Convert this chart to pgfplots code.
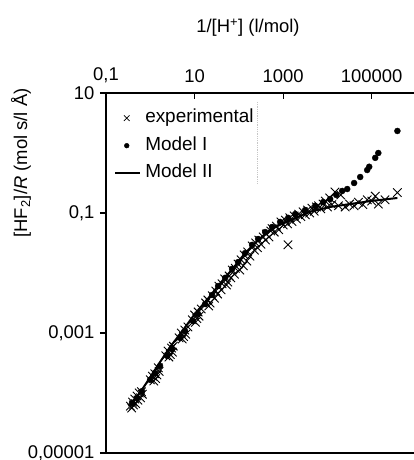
\documentclass[border=0pt]{standalone}
\usepackage{fontspec}
\setmainfont{Liberation Sans}
\usepackage{pgfplots}
\pgfplotsset{compat=1.18}
\newcommand{\lbl}{\fontsize{18.5}{20}\selectfont}
\newcommand{\leg}{\fontsize{19}{20}\selectfont}
\pgfplotsset{
  legcross/.style={legend image code/.code={\draw[##1, mark size=4bp, line width=0.7bp] plot coordinates {(11.5bp,0bp)};}},
  legdot/.style={legend image code/.code={\draw[##1, mark size=2.4bp] plot coordinates {(11.5bp,0bp)};}},
  legline/.style={legend image code/.code={\draw[##1] (0bp,0bp) -- (25bp,0bp);}},
}
\begin{document}
\begin{tikzpicture}[x=1bp,y=1bp]
\begin{axis}[
  at={(0,0)}, anchor=south west,
  scale only axis, width=310bp, height=360bp,
  xmode=log, ymode=log,
  xmin=0.1, xmax=1e6, ymin=1e-5, ymax=10,
  axis x line*=box, axis y line*=left,
  axis line style={line width=1.3bp},
  xtick pos=right, xticklabel pos=right,
  xtick={0.1,10,1000,100000}, xticklabels={{0,1},10,1000,100000},
  ytick={1e-5,1e-3,0.1,10}, yticklabels={{0,00001},{0,001},{0,1},10},
  xminorticks=false, yminorticks=false,
  tick align=inside, major tick length=6bp,
  tick style={line width=1.2bp, black},
  ytick style={xshift=-6bp},
  tick label style={font=\lbl},
  yticklabel style={xshift=-8bp},
  xticklabel style={yshift=7bp},
  legend style={at={(axis description cs:0.026,0.957)}, anchor=north west,
    draw=none, fill=none, font=\leg, row sep=8.5bp, column sep=3bp, inner sep=0bp,
    nodes={inner sep=1bp, text height=13bp, text depth=4bp}},
  legend cell align=left,
  clip=false,
]
\addplot[only marks, mark=x, mark size=6bp, line width=0.9bp, black, legcross]
coordinates {
(0.355,6.03e-5) (0.380,5.62e-5) (0.398,7.08e-5) (0.417,6.31e-5) (0.447,7.94e-5)
(0.468,6.61e-5) (0.501,8.91e-5) (0.525,7.59e-5) (0.562,1.0e-4) (0.603,8.32e-5)
(0.631,1.05e-4) (0.661,9.55e-5)
(1.0,1.66e-4) (1.122,1.91e-4) (1.202,1.585e-4) (1.259,2.09e-4) (1.318,1.74e-4)
(1.413,2.0e-4) (1.514,2.63e-4) (1.585,2.29e-4)
(2.239,4.17e-4) (2.512,5.01e-4) (2.630,3.98e-4) (2.818,4.37e-4) (3.020,5.62e-4)
(3.162,4.79e-4) (3.311,6.03e-4)
(4.467,8.32e-4) (5.012,1.0e-3) (5.248,7.94e-4) (5.623,8.71e-4) (6.026,1.12e-3)
(6.310,9.55e-4) (7.079,1.26e-3)
(8.913,1.66e-3) (10,2.0e-3) (10.47,1.51e-3) (11.22,1.74e-3) (12.02,2.24e-3)
(12.59,1.91e-3) (14.13,2.51e-3)
(17.78,3.16e-3) (19.95,3.55e-3) (20.89,2.82e-3) (22.39,3.16e-3) (25.12,4.17e-3)
(28.18,3.80e-3) (30.2,5.01e-3) (33.11,4.47e-3) (35.48,6.03e-3) (39.81,5.25e-3)
(41.69,6.61e-3) (47.86,7.94e-3) (52.48,6.31e-3) (56.23,7.08e-3) (60.26,8.91e-3)
(66.07,8.32e-3) (70.79,1.12e-2) (79.43,9.55e-3) (83.18,1.20e-2) (95.5,1.41e-2)
(104.7,1.12e-2) (112.2,1.66e-2) (125.9,1.32e-2) (131.8,2.0e-2) (151.4,1.585e-2)
(158.5,2.24e-2) (177.8,1.91e-2) (199.5,2.82e-2) (223.9,2.40e-2) (239.9,3.16e-2)
(263.0,2.63e-2) (281.8,3.55e-2) (316.2,3.02e-2) (354.8,3.98e-2) (398.1,3.55e-2)
(416.9,4.47e-2) (478.6,3.98e-2) (524.8,5.01e-2) (562.3,5.50e-2) (631,4.79e-2)
(707.9,6.03e-2) (794.3,5.25e-2) (891.3,7.08e-2) (1000,6.31e-2) (1122,7.59e-2)
(1259,6.61e-2) (1413,8.32e-2) (1585,7.24e-2) (1778,8.91e-2) (1995,7.94e-2)
(2239,9.55e-2) (2512,8.71e-2) (2818,0.105) (3162,9.33e-2) (3548,0.112)
(3981,0.1) (4467,0.120) (5012,0.107) (5623,0.126)
(1288,2.95e-2)
(6310,0.132) (7079,0.117) (7943,0.141) (8913,0.158) (10000,0.126)
(11220,0.178) (12590,0.138) (14790,0.224) (17780,0.132) (19950,0.200)
(25120,0.126) (31620,0.141) (39810,0.132) (50120,0.151) (63100,0.138)
(79430,0.166) (100000,0.158) (120200,0.191) (141300,0.141) (199500,0.166)
(380200,0.219)
};
\addlegendentry{experimental}
\addplot[only marks, mark=*, mark size=3bp, black, legdot]
coordinates {
(0.389,6.8e-5) (0.50,8.3e-5) (0.646,1.07e-4) (0.99,1.66e-4) (1.28,2.14e-4)
(1.66,2.82e-4) (2.40,4.17e-4) (3.09,5.37e-4) (4.68,8.3e-4) (6.1,1.07e-3)
(9.25,1.58e-3) (12.0,2.08e-3) (17.3,3.04e-3) (24.8,4.3e-3) (34.0,6.07e-3)
(48.9,8.3e-3) (70.3,1.17e-2) (96.2,1.52e-2) (138,2.14e-2) (199,2.94e-2)
(272,3.69e-2) (392,4.82e-2) (564,5.85e-2) (855,7.1e-2) (1300,8.3e-2)
(1870,9.6e-2) (3140,0.112) (5280,0.131) (8000,0.152) (11500,0.171)
(15800,0.2) (21500,0.233) (28000,0.251) (40000,0.316) (55000,0.398)
(79000,0.52) (87800,0.59) (120000,0.83) (141000,1.0) (380000,2.33)
};
\addlegendentry{Model I}
\addplot[no marks, line width=2bp, black, legline]
coordinates {
(0.389,6.61e-5) (0.759,1.35e-4) (1.51,2.95e-4) (2.82,5.89e-4) (5.5,1.12e-3)
(10.2,2.09e-3) (20.4,3.8e-3) (38.0,6.76e-3) (74.1,1.2e-2) (138,2.14e-2)
(275,3.55e-2) (513,5.25e-2) (1000,6.76e-2) (2090,8.51e-2) (4070,0.105)
(11500,0.126) (32400,0.141) (93300,0.158) (380000,0.178)
};
\addlegendentry{Model II}
\draw[gray!45, densely dotted, line width=0.8bp] (axis cs:263,7.08) -- (axis cs:263,0.316);
\end{axis}
\node[rotate=90, font=\lbl] at (-85,290) {[HF\textsubscript{2}]/\textit{R} (mol s/l Å)};
\node[font=\lbl] at (142,425) {1/[H\textsuperscript{+}] (l/mol)};
\pgfresetboundingbox
\path[use as bounding box] (-106,-7) rectangle (307,453);
\end{tikzpicture}
\end{document}
